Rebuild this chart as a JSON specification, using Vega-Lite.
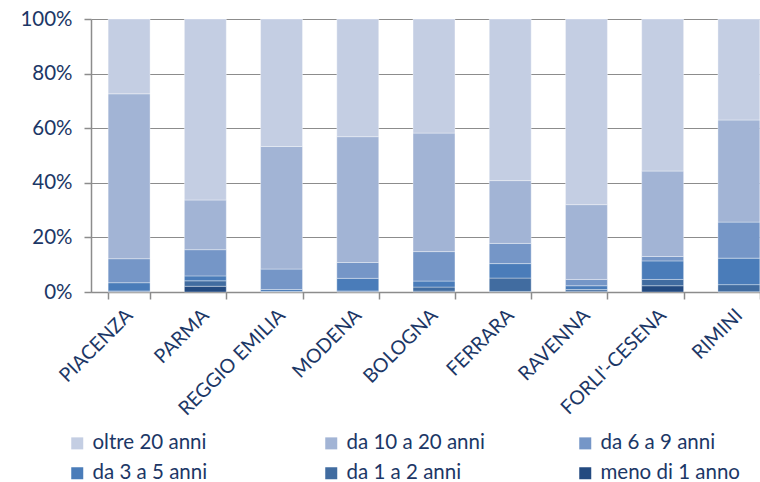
{
  "$schema": "https://vega.github.io/schema/vega-lite/v6.json",
  "autosize": "none",
  "width": 669,
  "height": 273,
  "padding": {"left": 91, "top": 19, "right": 0, "bottom": 190},
  "background": "white",
  "config": {"view": {"stroke": null}, "font": "Lato"},
  "data": {"values": [
    {"provincia": "PIACENZA", "classe": "meno di 1 anno", "k": 1, "quota": 0.1},
    {"provincia": "PIACENZA", "classe": "da 1 a 2 anni", "k": 2, "quota": 0.3},
    {"provincia": "PIACENZA", "classe": "da 3 a 5 anni", "k": 3, "quota": 3.0},
    {"provincia": "PIACENZA", "classe": "da 6 a 9 anni", "k": 4, "quota": 8.8},
    {"provincia": "PIACENZA", "classe": "da 10 a 20 anni", "k": 5, "quota": 60.4},
    {"provincia": "PIACENZA", "classe": "oltre 20 anni", "k": 6, "quota": 27.4},
    {"provincia": "PARMA", "classe": "meno di 1 anno", "k": 1, "quota": 2.1},
    {"provincia": "PARMA", "classe": "da 1 a 2 anni", "k": 2, "quota": 2.0},
    {"provincia": "PARMA", "classe": "da 3 a 5 anni", "k": 3, "quota": 1.8},
    {"provincia": "PARMA", "classe": "da 6 a 9 anni", "k": 4, "quota": 9.6},
    {"provincia": "PARMA", "classe": "da 10 a 20 anni", "k": 5, "quota": 18.2},
    {"provincia": "PARMA", "classe": "oltre 20 anni", "k": 6, "quota": 66.3},
    {"provincia": "REGGIO EMILIA", "classe": "meno di 1 anno", "k": 1, "quota": 0.1},
    {"provincia": "REGGIO EMILIA", "classe": "da 1 a 2 anni", "k": 2, "quota": 0.1},
    {"provincia": "REGGIO EMILIA", "classe": "da 3 a 5 anni", "k": 3, "quota": 0.7},
    {"provincia": "REGGIO EMILIA", "classe": "da 6 a 9 anni", "k": 4, "quota": 7.5},
    {"provincia": "REGGIO EMILIA", "classe": "da 10 a 20 anni", "k": 5, "quota": 44.9},
    {"provincia": "REGGIO EMILIA", "classe": "oltre 20 anni", "k": 6, "quota": 46.7},
    {"provincia": "MODENA", "classe": "meno di 1 anno", "k": 1, "quota": 0.1},
    {"provincia": "MODENA", "classe": "da 1 a 2 anni", "k": 2, "quota": 0.3},
    {"provincia": "MODENA", "classe": "da 3 a 5 anni", "k": 3, "quota": 4.6},
    {"provincia": "MODENA", "classe": "da 6 a 9 anni", "k": 4, "quota": 5.8},
    {"provincia": "MODENA", "classe": "da 10 a 20 anni", "k": 5, "quota": 46.1},
    {"provincia": "MODENA", "classe": "oltre 20 anni", "k": 6, "quota": 43.1},
    {"provincia": "BOLOGNA", "classe": "meno di 1 anno", "k": 1, "quota": 0.3},
    {"provincia": "BOLOGNA", "classe": "da 1 a 2 anni", "k": 2, "quota": 1.5},
    {"provincia": "BOLOGNA", "classe": "da 3 a 5 anni", "k": 3, "quota": 2.2},
    {"provincia": "BOLOGNA", "classe": "da 6 a 9 anni", "k": 4, "quota": 10.8},
    {"provincia": "BOLOGNA", "classe": "da 10 a 20 anni", "k": 5, "quota": 43.4},
    {"provincia": "BOLOGNA", "classe": "oltre 20 anni", "k": 6, "quota": 41.8},
    {"provincia": "FERRARA", "classe": "meno di 1 anno", "k": 1, "quota": 0.2},
    {"provincia": "FERRARA", "classe": "da 1 a 2 anni", "k": 2, "quota": 4.9},
    {"provincia": "FERRARA", "classe": "da 3 a 5 anni", "k": 3, "quota": 5.3},
    {"provincia": "FERRARA", "classe": "da 6 a 9 anni", "k": 4, "quota": 7.4},
    {"provincia": "FERRARA", "classe": "da 10 a 20 anni", "k": 5, "quota": 23.0},
    {"provincia": "FERRARA", "classe": "oltre 20 anni", "k": 6, "quota": 59.2},
    {"provincia": "RAVENNA", "classe": "meno di 1 anno", "k": 1, "quota": 0.3},
    {"provincia": "RAVENNA", "classe": "da 1 a 2 anni", "k": 2, "quota": 0.6},
    {"provincia": "RAVENNA", "classe": "da 3 a 5 anni", "k": 3, "quota": 1.4},
    {"provincia": "RAVENNA", "classe": "da 6 a 9 anni", "k": 4, "quota": 2.3},
    {"provincia": "RAVENNA", "classe": "da 10 a 20 anni", "k": 5, "quota": 27.4},
    {"provincia": "RAVENNA", "classe": "oltre 20 anni", "k": 6, "quota": 68.0},
    {"provincia": "FORLI'-CESENA", "classe": "meno di 1 anno", "k": 1, "quota": 2.3},
    {"provincia": "FORLI'-CESENA", "classe": "da 1 a 2 anni", "k": 2, "quota": 2.3},
    {"provincia": "FORLI'-CESENA", "classe": "da 3 a 5 anni", "k": 3, "quota": 6.8},
    {"provincia": "FORLI'-CESENA", "classe": "da 6 a 9 anni", "k": 4, "quota": 1.6},
    {"provincia": "FORLI'-CESENA", "classe": "da 10 a 20 anni", "k": 5, "quota": 31.3},
    {"provincia": "FORLI'-CESENA", "classe": "oltre 20 anni", "k": 6, "quota": 55.7},
    {"provincia": "RIMINI", "classe": "meno di 1 anno", "k": 1, "quota": 0.1},
    {"provincia": "RIMINI", "classe": "da 1 a 2 anni", "k": 2, "quota": 2.6},
    {"provincia": "RIMINI", "classe": "da 3 a 5 anni", "k": 3, "quota": 9.7},
    {"provincia": "RIMINI", "classe": "da 6 a 9 anni", "k": 4, "quota": 13.2},
    {"provincia": "RIMINI", "classe": "da 10 a 20 anni", "k": 5, "quota": 37.4},
    {"provincia": "RIMINI", "classe": "oltre 20 anni", "k": 6, "quota": 37.0}
  ]},
  "mark": {"type": "bar", "stroke": "white", "strokeWidth": 0.6, "strokeOpacity": 0.6},
  "encoding": {
    "x": {
      "field": "provincia", "type": "nominal", "sort": null, "title": null,
      "scale": {"range": [0, 686], "paddingInner": 0.45, "paddingOuter": 0.225},
      "axis": {
        "domainColor": "#8c8c8c", "domainWidth": 1.5,
        "tickBand": "extent", "tickColor": "#8c8c8c", "tickWidth": 1.5, "tickSize": 7,
        "labelAngle": -45, "labelAlign": "right", "labelBaseline": "middle",
        "labelPadding": 13, "labelFontSize": 19.5, "labelColor": "#1c3766", "labelFont": "Lato"
      }
    },
    "y": {
      "field": "quota", "type": "quantitative", "stack": "normalize", "title": null,
      "scale": {"domain": [0, 1], "nice": false},
      "axis": {
        "values": [0, 0.2, 0.4, 0.6, 0.8, 1], "format": ".0%",
        "domainColor": "#8c8c8c", "domainWidth": 1.5,
        "tickColor": "#8c8c8c", "tickWidth": 1.5, "tickSize": 7,
        "grid": true, "gridColor": "#8c8c8c", "gridWidth": 1.2,
        "labelPadding": 12, "labelFontSize": 20.5, "labelColor": "#1c3766", "labelFont": "Lato"
      }
    },
    "color": {
      "field": "classe", "type": "nominal", "title": null,
      "scale": {
        "domain": ["oltre 20 anni", "da 10 a 20 anni", "da 6 a 9 anni", "da 3 a 5 anni", "da 1 a 2 anni", "meno di 1 anno"],
        "range": ["#c4cee3", "#a2b4d5", "#7596c7", "#4a7cb9", "#416ca0", "#234a80"]
      },
      "legend": {
        "orient": "none", "legendX": -24, "legendY": 414,
        "direction": "horizontal", "columns": 3, "gridAlign": "all",
        "columnPadding": 89, "rowPadding": 9,
        "symbolType": "square", "symbolSize": 144, "symbolStrokeWidth": 0, "symbolOffset": 0,
        "labelOffset": 5, "labelFontSize": 20.5, "labelColor": "#1c3766", "labelFont": "Lato"
      }
    },
    "order": {"field": "k", "type": "quantitative"}
  }
}
